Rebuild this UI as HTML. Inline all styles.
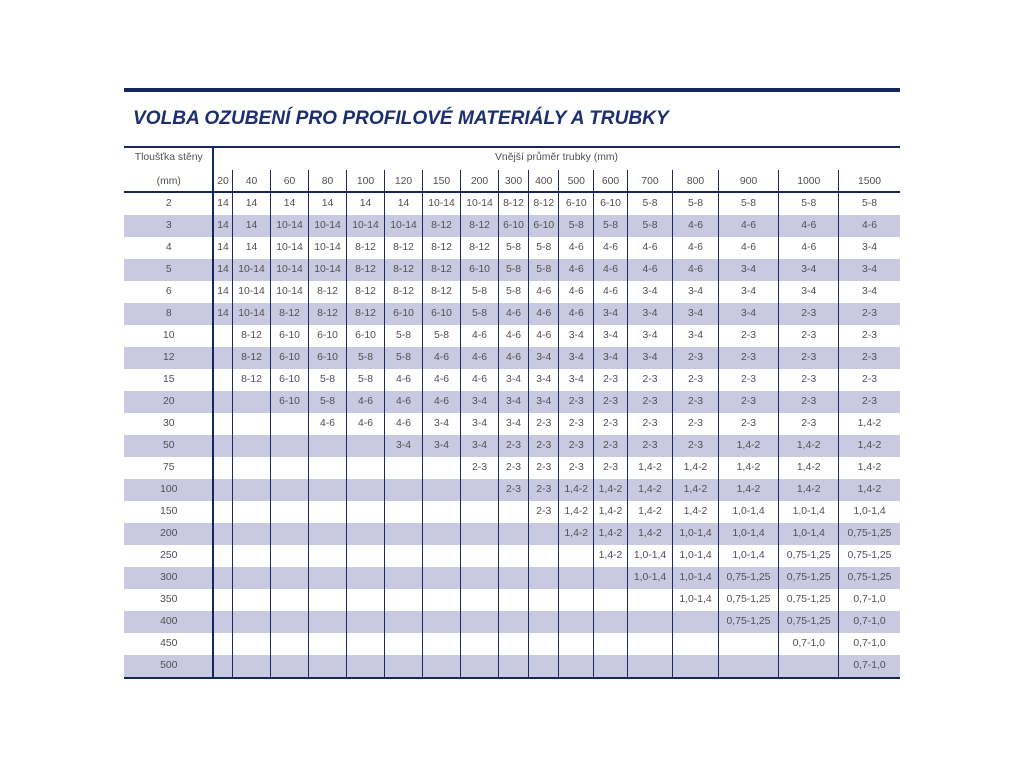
<!DOCTYPE html>
<html>
<head>
<meta charset="utf-8">
<style>
html,body{margin:0;padding:0;background:#fff;}
body{width:1024px;height:768px;position:relative;overflow:hidden;font-family:"Liberation Sans",Arial,sans-serif;}
.abs{position:absolute;}
.bar{position:absolute;left:124px;width:776px;background:#14265e;}
.title{position:absolute;left:133px;top:109px;font-size:19.1px;line-height:19px;font-weight:bold;font-style:italic;color:#1c2f6e;white-space:nowrap;}
.r{position:absolute;left:124px;width:776px;height:22px;display:flex;font-size:10.4px;color:#505050;line-height:22px;}
.r.s{background:#c9cae2;}
.r span{display:block;text-align:center;flex:none;white-space:nowrap;overflow:visible;}
.r span:nth-child(1){width:89.5px}
.r span:nth-child(2){width:19px}
.r span:nth-child(3){width:38px}
.r span:nth-child(4){width:38px}
.r span:nth-child(5){width:38px}
.r span:nth-child(6){width:38px}
.r span:nth-child(7){width:38px}
.r span:nth-child(8){width:38px}
.r span:nth-child(9){width:38px}
.r span:nth-child(10){width:30px}
.r span:nth-child(11){width:30.5px}
.r span:nth-child(12){width:34.5px}
.r span:nth-child(13){width:34px}
.r span:nth-child(14){width:45px}
.r span:nth-child(15){width:46px}
.r span:nth-child(16){width:60px}
.r span:nth-child(17){width:60.5px}
.r span:nth-child(18){width:61px}
.v{position:absolute;top:170px;height:507px;width:1px;background:#1b2b60;}
.t{position:absolute;font-size:10.4px;color:#505050;white-space:nowrap;line-height:14px;}
</style>
</head>
<body>
<div class="bar" style="top:88px;height:4px;"></div>
<div class="title">VOLBA OZUBENÍ PRO PROFILOVÉ MATERIÁLY A TRUBKY</div>

<div class="bar" style="top:146px;height:2px;"></div>
<div class="t" style="left:124px;width:89.5px;text-align:center;top:151px;">Tloušťka stěny</div>
<div class="t" style="left:213px;width:687px;text-align:center;top:151px;">Vnější průměr trubky (mm)</div>

<div class="r" style="top:171px;height:20px;line-height:21px;"><span>(mm)</span><span>20</span><span>40</span><span>60</span><span>80</span><span>100</span><span>120</span><span>150</span><span>200</span><span>300</span><span>400</span><span>500</span><span>600</span><span>700</span><span>800</span><span>900</span><span>1000</span><span>1500</span></div>

<div class="r" style="top:193px;"><span>2</span><span>14</span><span>14</span><span>14</span><span>14</span><span>14</span><span>14</span><span>10-14</span><span>10-14</span><span>8-12</span><span>8-12</span><span>6-10</span><span>6-10</span><span>5-8</span><span>5-8</span><span>5-8</span><span>5-8</span><span>5-8</span></div>
<div class="r s" style="top:215px;"><span>3</span><span>14</span><span>14</span><span>10-14</span><span>10-14</span><span>10-14</span><span>10-14</span><span>8-12</span><span>8-12</span><span>6-10</span><span>6-10</span><span>5-8</span><span>5-8</span><span>5-8</span><span>4-6</span><span>4-6</span><span>4-6</span><span>4-6</span></div>
<div class="r" style="top:237px;"><span>4</span><span>14</span><span>14</span><span>10-14</span><span>10-14</span><span>8-12</span><span>8-12</span><span>8-12</span><span>8-12</span><span>5-8</span><span>5-8</span><span>4-6</span><span>4-6</span><span>4-6</span><span>4-6</span><span>4-6</span><span>4-6</span><span>3-4</span></div>
<div class="r s" style="top:259px;"><span>5</span><span>14</span><span>10-14</span><span>10-14</span><span>10-14</span><span>8-12</span><span>8-12</span><span>8-12</span><span>6-10</span><span>5-8</span><span>5-8</span><span>4-6</span><span>4-6</span><span>4-6</span><span>4-6</span><span>3-4</span><span>3-4</span><span>3-4</span></div>
<div class="r" style="top:281px;"><span>6</span><span>14</span><span>10-14</span><span>10-14</span><span>8-12</span><span>8-12</span><span>8-12</span><span>8-12</span><span>5-8</span><span>5-8</span><span>4-6</span><span>4-6</span><span>4-6</span><span>3-4</span><span>3-4</span><span>3-4</span><span>3-4</span><span>3-4</span></div>
<div class="r s" style="top:303px;"><span>8</span><span>14</span><span>10-14</span><span>8-12</span><span>8-12</span><span>8-12</span><span>6-10</span><span>6-10</span><span>5-8</span><span>4-6</span><span>4-6</span><span>4-6</span><span>3-4</span><span>3-4</span><span>3-4</span><span>3-4</span><span>2-3</span><span>2-3</span></div>
<div class="r" style="top:325px;"><span>10</span><span></span><span>8-12</span><span>6-10</span><span>6-10</span><span>6-10</span><span>5-8</span><span>5-8</span><span>4-6</span><span>4-6</span><span>4-6</span><span>3-4</span><span>3-4</span><span>3-4</span><span>3-4</span><span>2-3</span><span>2-3</span><span>2-3</span></div>
<div class="r s" style="top:347px;"><span>12</span><span></span><span>8-12</span><span>6-10</span><span>6-10</span><span>5-8</span><span>5-8</span><span>4-6</span><span>4-6</span><span>4-6</span><span>3-4</span><span>3-4</span><span>3-4</span><span>3-4</span><span>2-3</span><span>2-3</span><span>2-3</span><span>2-3</span></div>
<div class="r" style="top:369px;"><span>15</span><span></span><span>8-12</span><span>6-10</span><span>5-8</span><span>5-8</span><span>4-6</span><span>4-6</span><span>4-6</span><span>3-4</span><span>3-4</span><span>3-4</span><span>2-3</span><span>2-3</span><span>2-3</span><span>2-3</span><span>2-3</span><span>2-3</span></div>
<div class="r s" style="top:391px;"><span>20</span><span></span><span></span><span>6-10</span><span>5-8</span><span>4-6</span><span>4-6</span><span>4-6</span><span>3-4</span><span>3-4</span><span>3-4</span><span>2-3</span><span>2-3</span><span>2-3</span><span>2-3</span><span>2-3</span><span>2-3</span><span>2-3</span></div>
<div class="r" style="top:413px;"><span>30</span><span></span><span></span><span></span><span>4-6</span><span>4-6</span><span>4-6</span><span>3-4</span><span>3-4</span><span>3-4</span><span>2-3</span><span>2-3</span><span>2-3</span><span>2-3</span><span>2-3</span><span>2-3</span><span>2-3</span><span>1,4-2</span></div>
<div class="r s" style="top:435px;"><span>50</span><span></span><span></span><span></span><span></span><span></span><span>3-4</span><span>3-4</span><span>3-4</span><span>2-3</span><span>2-3</span><span>2-3</span><span>2-3</span><span>2-3</span><span>2-3</span><span>1,4-2</span><span>1,4-2</span><span>1,4-2</span></div>
<div class="r" style="top:457px;"><span>75</span><span></span><span></span><span></span><span></span><span></span><span></span><span></span><span>2-3</span><span>2-3</span><span>2-3</span><span>2-3</span><span>2-3</span><span>1,4-2</span><span>1,4-2</span><span>1,4-2</span><span>1,4-2</span><span>1,4-2</span></div>
<div class="r s" style="top:479px;"><span>100</span><span></span><span></span><span></span><span></span><span></span><span></span><span></span><span></span><span>2-3</span><span>2-3</span><span>1,4-2</span><span>1,4-2</span><span>1,4-2</span><span>1,4-2</span><span>1,4-2</span><span>1,4-2</span><span>1,4-2</span></div>
<div class="r" style="top:501px;"><span>150</span><span></span><span></span><span></span><span></span><span></span><span></span><span></span><span></span><span></span><span>2-3</span><span>1,4-2</span><span>1,4-2</span><span>1,4-2</span><span>1,4-2</span><span>1,0-1,4</span><span>1,0-1,4</span><span>1,0-1,4</span></div>
<div class="r s" style="top:523px;"><span>200</span><span></span><span></span><span></span><span></span><span></span><span></span><span></span><span></span><span></span><span></span><span>1,4-2</span><span>1,4-2</span><span>1,4-2</span><span>1,0-1,4</span><span>1,0-1,4</span><span>1,0-1,4</span><span>0,75-1,25</span></div>
<div class="r" style="top:545px;"><span>250</span><span></span><span></span><span></span><span></span><span></span><span></span><span></span><span></span><span></span><span></span><span></span><span>1,4-2</span><span>1,0-1,4</span><span>1,0-1,4</span><span>1,0-1,4</span><span>0,75-1,25</span><span>0,75-1,25</span></div>
<div class="r s" style="top:567px;"><span>300</span><span></span><span></span><span></span><span></span><span></span><span></span><span></span><span></span><span></span><span></span><span></span><span></span><span>1,0-1,4</span><span>1,0-1,4</span><span>0,75-1,25</span><span>0,75-1,25</span><span>0,75-1,25</span></div>
<div class="r" style="top:589px;"><span>350</span><span></span><span></span><span></span><span></span><span></span><span></span><span></span><span></span><span></span><span></span><span></span><span></span><span></span><span>1,0-1,4</span><span>0,75-1,25</span><span>0,75-1,25</span><span>0,7-1,0</span></div>
<div class="r s" style="top:611px;"><span>400</span><span></span><span></span><span></span><span></span><span></span><span></span><span></span><span></span><span></span><span></span><span></span><span></span><span></span><span></span><span>0,75-1,25</span><span>0,75-1,25</span><span>0,7-1,0</span></div>
<div class="r" style="top:633px;"><span>450</span><span></span><span></span><span></span><span></span><span></span><span></span><span></span><span></span><span></span><span></span><span></span><span></span><span></span><span></span><span></span><span>0,7-1,0</span><span>0,7-1,0</span></div>
<div class="r s" style="top:655px;"><span>500</span><span></span><span></span><span></span><span></span><span></span><span></span><span></span><span></span><span></span><span></span><span></span><span></span><span></span><span></span><span></span><span></span><span>0,7-1,0</span></div>

<!-- horizontal rules -->
<div class="bar" style="top:191px;height:2px;"></div>
<div class="bar" style="top:677px;height:2px;"></div>

<!-- vertical lines -->
<div class="abs" style="left:212px;top:147px;width:2px;height:532px;background:#14265e;"></div>
<div class="v" style="left:232px"></div>
<div class="v" style="left:270px"></div>
<div class="v" style="left:308px"></div>
<div class="v" style="left:346px"></div>
<div class="v" style="left:384px"></div>
<div class="v" style="left:422px"></div>
<div class="v" style="left:460px"></div>
<div class="v" style="left:498px"></div>
<div class="v" style="left:528px"></div>
<div class="v" style="left:558px"></div>
<div class="v" style="left:593px"></div>
<div class="v" style="left:627px"></div>
<div class="v" style="left:672px"></div>
<div class="v" style="left:718px"></div>
<div class="v" style="left:778px"></div>
<div class="v" style="left:838px"></div>
</body>
</html>
